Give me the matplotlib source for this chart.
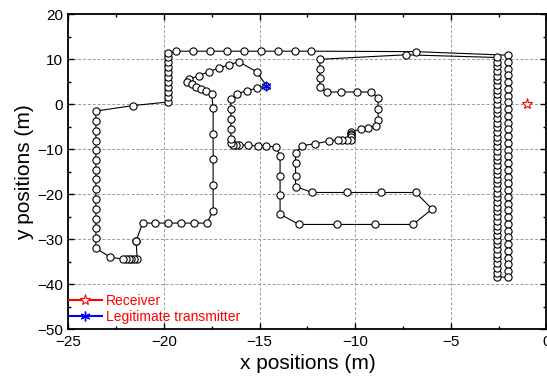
import numpy as np
import matplotlib
matplotlib.use("Agg")
import matplotlib.pyplot as plt
from matplotlib.ticker import MultipleLocator

plt.rcParams['font.family'] = ['Liberation Sans', 'DejaVu Sans']

# walked route, split into legs (x, y) in metres
west_leg = [(-21.46, -30.4),
            (-21.40, -34.4), (-21.55, -34.4), (-21.70, -34.4), (-21.85, -34.4), (-22.00, -34.4), (-22.12, -34.4),
            (-22.80, -34.0),
            (-23.56, -32.0), (-23.56, -29.8), (-23.56, -27.6), (-23.56, -25.4), (-23.56, -23.3),
            (-23.56, -21.1), (-23.56, -18.9), (-23.56, -16.7), (-23.56, -14.6), (-23.56, -12.4),
            (-23.56, -10.2), (-23.56, -8.1), (-23.56, -5.9), (-23.56, -3.7), (-23.56, -1.5),
            (-21.64, -0.3),
            (-19.81, 0.5), (-19.81, 1.6), (-19.81, 2.7), (-19.81, 3.8), (-19.81, 5.0), (-19.81, 6.1),
            (-19.81, 7.2), (-19.81, 8.3), (-19.81, 9.4), (-19.81, 10.4), (-19.81, 11.3)]

north_leg = [(-19.36, 11.8), (-18.48, 11.8), (-17.59, 11.8), (-16.70, 11.8), (-15.83, 11.8),
             (-14.94, 11.8), (-14.05, 11.8), (-13.16, 11.8), (-12.29, 11.8), (-6.83, 11.7)]

east_down = [(-2.0, 10.9), (-2.0, 9.4), (-2.0, 7.9), (-2.0, 6.4), (-2.0, 4.9), (-2.0, 3.4), (-2.0, 1.9),
             (-2.0, 0.4), (-2.0, -1.1), (-2.0, -2.6), (-2.0, -4.1), (-2.0, -5.6), (-2.0, -7.1),
             (-2.0, -8.6), (-2.0, -10.1), (-2.0, -11.6), (-2.0, -13.1), (-2.0, -14.6), (-2.0, -16.1),
             (-2.0, -17.6), (-2.0, -19.1), (-2.0, -20.6), (-2.0, -22.1), (-2.0, -23.6), (-2.0, -25.1),
             (-2.0, -26.6), (-2.0, -28.1), (-2.0, -29.6), (-2.0, -31.1), (-2.0, -32.6), (-2.0, -34.1),
             (-2.0, -35.6), (-2.0, -37.1), (-2.0, -38.4)]

east_up = [(-2.6, -38.4), (-2.6, -37.4), (-2.6, -36.3), (-2.6, -35.3), (-2.6, -34.2), (-2.6, -33.2),
           (-2.6, -32.2), (-2.6, -31.1), (-2.6, -30.1), (-2.6, -29.0), (-2.6, -28.0), (-2.6, -27.0),
           (-2.6, -25.9), (-2.6, -24.9), (-2.6, -23.8), (-2.6, -22.8), (-2.6, -21.8), (-2.6, -20.7),
           (-2.6, -19.7), (-2.6, -18.6), (-2.6, -17.6), (-2.6, -16.6), (-2.6, -15.5), (-2.6, -14.5),
           (-2.6, -13.4), (-2.6, -12.4), (-2.6, -11.4), (-2.6, -10.3), (-2.6, -9.3), (-2.6, -8.2),
           (-2.6, -7.2), (-2.6, -6.2), (-2.6, -5.1), (-2.6, -4.1), (-2.6, -3.0), (-2.6, -2.0),
           (-2.6, -1.0), (-2.6, 0.1), (-2.6, 1.1), (-2.6, 2.2), (-2.6, 3.2), (-2.6, 4.2),
           (-2.6, 5.3), (-2.6, 6.3), (-2.6, 7.4), (-2.6, 8.4), (-2.6, 9.4), (-2.6, 10.4)]

middle_leg = [(-7.34, 11.0), (-11.85, 10.0), (-11.85, 7.84), (-11.85, 5.78), (-11.85, 3.78),
              (-11.50, 2.73), (-10.72, 2.73), (-9.93, 2.73), (-9.18, 2.73), (-8.80, 1.47),
              (-8.80, -0.97), (-8.80, -3.5), (-8.93, -4.74), (-9.33, -5.19), (-9.71, -5.56),
              (-10.2, -6.1), (-10.2, -6.5), (-10.2, -6.9), (-10.2, -7.3), (-10.2, -7.86),
              (-10.43, -7.86), (-10.67, -7.86), (-10.90, -7.86), (-11.37, -8.16), (-12.08, -8.75),
              (-12.78, -9.2), (-13.12, -10.75), (-13.12, -13.1), (-13.12, -15.9), (-13.12, -18.3),
              (-12.24, -19.6), (-10.43, -19.6), (-8.63, -19.6), (-6.83, -19.6), (-5.98, -23.3),
              (-6.98, -26.7), (-8.96, -26.7), (-10.95, -26.7), (-12.95, -26.7), (-13.93, -24.4),
              (-13.93, -20.2), (-13.93, -15.9), (-13.93, -11.5), (-14.15, -9.45), (-14.64, -9.35),
              (-15.11, -9.25), (-15.60, -9.15), (-16.09, -9.0), (-16.25, -9.1), (-16.40, -9.0),
              (-16.50, -8.7)]

inner_leg = [(-16.5, -7.8), (-16.5, -5.5), (-16.5, -3.3), (-16.5, -1.1), (-16.5, 1.1),
             (-16.2, 2.3), (-15.68, 3.0), (-15.16, 3.56), (-14.64, 4.13), (-15.16, 7.25),
             (-16.10, 9.47), (-16.62, 8.73), (-17.13, 8.0), (-17.66, 7.26), (-18.16, 6.36),
             (-18.69, 5.62), (-18.82, 5.02), (-18.56, 4.44), (-18.30, 3.78), (-18.04, 3.33),
             (-17.78, 2.96), (-17.51, 2.29), (-17.43, -0.75), (-17.43, -6.5), (-17.43, -12.2),
             (-17.43, -17.9), (-17.43, -23.7), (-17.76, -26.4), (-18.42, -26.4), (-19.10, -26.4),
             (-19.78, -26.4), (-20.46, -26.4), (-21.12, -26.4), (-21.46, -30.4)]

receiver = (-1.0, 0.0)
transmitter = (-14.64, 4.13)

route = np.array(west_leg + north_leg + east_down + east_up + middle_leg + inner_leg)

fig = plt.figure(figsize=(5.47, 3.85), dpi=100)
ax = fig.add_axes([0.125, 0.1447, 0.874, 0.8182])

ax.plot(route[:, 0], route[:, 1], '-o', color='black', lw=0.8,
        ms=5.2, mfc='white', mec='black', mew=0.8, zorder=3)

ax.plot([receiver[0]], [receiver[1]], '-*', color='red', ms=8, mfc='white',
        mec='red', mew=0.8, label='Receiver', zorder=4)
ax.plot([transmitter[0]], [transmitter[1]], '-', color='blue', marker=(6, 2, 0),
        ms=7, mec='blue', mew=1.0, label='Legitimate transmitter', zorder=4)

ax.set_xlim(-25, 0)
ax.set_ylim(-50, 20)
ax.xaxis.set_major_locator(MultipleLocator(5))
ax.xaxis.set_minor_locator(MultipleLocator(2.5))
ax.yaxis.set_major_locator(MultipleLocator(10))
ax.yaxis.set_minor_locator(MultipleLocator(5))
ax.tick_params(which='both', direction='in', top=True, right=True, labelsize=11, pad=4)
ax.tick_params(which='major', length=4, width=1)
ax.tick_params(which='minor', length=2.5, width=1)
for s in ax.spines.values():
    s.set_linewidth(1.3)

ax.grid(True, which='major', ls=(0, (3, 2)), color='#999999', lw=0.7)
ax.set_axisbelow(True)

ax.set_xlabel('x positions (m)', fontsize=15, labelpad=4)
ax.set_ylabel('y positions (m)', fontsize=15, labelpad=2)

leg = ax.legend(loc='lower left', bbox_to_anchor=(-0.02, -0.015), frameon=False,
                fontsize=10, labelcolor='red', handlelength=2.4, handletextpad=0.3,
                labelspacing=0.2, borderpad=0.2)

fig.savefig('out.png', dpi=100)
